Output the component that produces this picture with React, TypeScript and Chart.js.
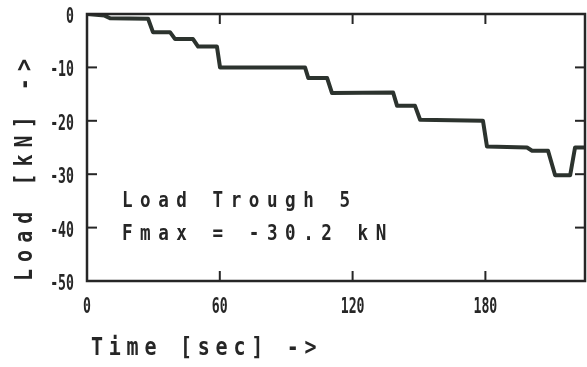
import React, { useEffect, useRef } from 'react';
import { Chart, registerables } from 'chart.js';

Chart.register(...registerables);

// ---- data ----
const timeSec = [0, 8, 10.4, 27.6, 29.8, 37.5, 39.8, 47.9, 50.2, 58.7, 60.1, 98.5, 100, 108.5, 110.7, 138.3, 140.1, 148.2, 150.5, 178.9, 180.7, 198.8, 201.1, 208.3, 211.5, 218.3, 220.5, 225];
const loadKN = [0, -0.3, -0.8, -0.9, -3.4, -3.4, -4.7, -4.7, -6.1, -6.1, -10, -10, -12, -12, -14.8, -14.7, -17.2, -17.2, -19.8, -20, -24.8, -25, -25.6, -25.6, -30.2, -30.2, -25, -25];
const xTicks = [0, 60, 120, 180];
const yTicks = [0, -10, -20, -30, -40, -50];
const xTitle = 'Time [sec] ->';
const yTitle = 'Load [kN] ->';
const noteLines = ['Load Trough 5', 'Fmax = -30.2 kN'];

const INK = '#262626';
const LINE = '#2c332e';
const MONO = '"DejaVu Sans Mono", "Liberation Mono", monospace';

function drawText(
  ctx: CanvasRenderingContext2D,
  text: string,
  x: number,
  y: number,
  size: number,
  sx: number,
  spacing: number,
  align: CanvasTextAlign = 'left',
  rot = 0
) {
  ctx.save();
  ctx.translate(x, y);
  if (rot) ctx.rotate(rot);
  ctx.scale(sx, 1);
  ctx.font = `bold ${size}px ${MONO}`;
  (ctx as any).letterSpacing = `${spacing}px`;
  ctx.textAlign = align;
  ctx.textBaseline = 'alphabetic';
  ctx.fillStyle = INK;
  ctx.fillText(text, 0, 0);
  ctx.restore();
}

const decor = {
  id: 'decor',
  afterDatasetsDraw(chart: any) {
    const { ctx, chartArea: a, scales } = chart;
    const x = scales.x;
    const y = scales.y;
    ctx.save();
    ctx.strokeStyle = INK;
    ctx.lineWidth = 2.5;
    ctx.strokeRect(a.left, a.top, a.right - a.left, a.bottom - a.top);
    ctx.lineWidth = 2;
    const seg = (x1: number, y1: number, x2: number, y2: number) => {
      ctx.beginPath();
      ctx.moveTo(x1, y1);
      ctx.lineTo(x2, y2);
      ctx.stroke();
    };
    const TL = 10;
    x.ticks.forEach((t: any) => {
      const v = t.value;
      if (v === x.min || v === x.max) return;
      const px = x.getPixelForValue(v);
      seg(px, a.bottom, px, a.bottom - TL);
      seg(px, a.top, px, a.top + TL);
    });
    y.ticks.forEach((t: any) => {
      const v = t.value;
      if (v === y.min || v === y.max) return;
      const py = y.getPixelForValue(v);
      seg(a.left, py, a.left + TL, py);
      seg(a.right, py, a.right - TL, py);
    });
    ctx.restore();
  },
  afterDraw(chart: any) {
    const { ctx, chartArea: a, scales } = chart;
    const x = scales.x;
    const y = scales.y;
    // tick labels (condensed plotter style)
    const tickSize = 22;
    const cap = tickSize * 0.729;
    y.ticks.forEach((t: any) => {
      const py = y.getPixelForValue(t.value);
      drawText(ctx, String(t.value), a.left - 13, py + cap / 2 + 1, tickSize, 0.6, 0, 'right');
    });
    x.ticks.forEach((t: any) => {
      const px = x.getPixelForValue(t.value);
      drawText(ctx, String(t.value), px, a.bottom + 32, tickSize, 0.6, 0, 'center');
    });
    // annotation
    drawText(ctx, noteLines[0], a.left + 35, a.top + 193, 22, 0.8, 9.4);
    drawText(ctx, noteLines[1], a.left + 35, a.top + 226, 22, 0.8, 9.4);
    // axis titles
    drawText(ctx, xTitle, 91, 355, 25, 0.8, 7.2);
    drawText(ctx, yTitle, 32, 281, 25, 0.8, 8.8, 'left', -Math.PI / 2);
  },
};

export default function App() {
  const ref = useRef<HTMLCanvasElement | null>(null);
  useEffect(() => {
    document.body.style.margin = '0';
    const canvas = ref.current;
    if (!canvas) return;
    const chart = new Chart(canvas, {
      type: 'scatter',
      data: {
        datasets: [
          {
            data: timeSec.map((t, i) => ({ x: t, y: loadKN[i] })),
            showLine: true,
            borderColor: LINE,
            borderWidth: 4,
            borderJoinStyle: 'round',
            borderCapStyle: 'round',
            pointRadius: 0,
            fill: false,
          } as any,
        ],
      },
      options: {
        responsive: false,
        animation: false,
        layout: { padding: { top: 14, right: 2, left: 0, bottom: 0 } },
        plugins: { legend: { display: false }, tooltip: { enabled: false }, title: { display: false } },
        scales: {
          x: {
            type: 'linear',
            min: 0,
            max: 225,
            afterBuildTicks: (s: any) => {
              s.ticks = xTicks.map((v) => ({ value: v }));
            },
            afterFit: (s: any) => {
              s.height = 86;
            },
            grid: { display: false, drawTicks: false },
            border: { display: false },
            ticks: { display: false },
          },
          y: {
            type: 'linear',
            min: -50,
            max: 0,
            afterBuildTicks: (s: any) => {
              s.ticks = yTicks.map((v) => ({ value: v }));
            },
            afterFit: (s: any) => {
              s.width = 87;
            },
            grid: { display: false, drawTicks: false },
            border: { display: false },
            ticks: { display: false },
          },
        },
      } as any,
      plugins: [decor],
    });
    return () => chart.destroy();
  }, []);
  return (
    <div style={{ width: 587, height: 367, background: '#fff' }}>
      <canvas ref={ref} width={587} height={367} style={{ display: 'block' }} />
    </div>
  );
}
